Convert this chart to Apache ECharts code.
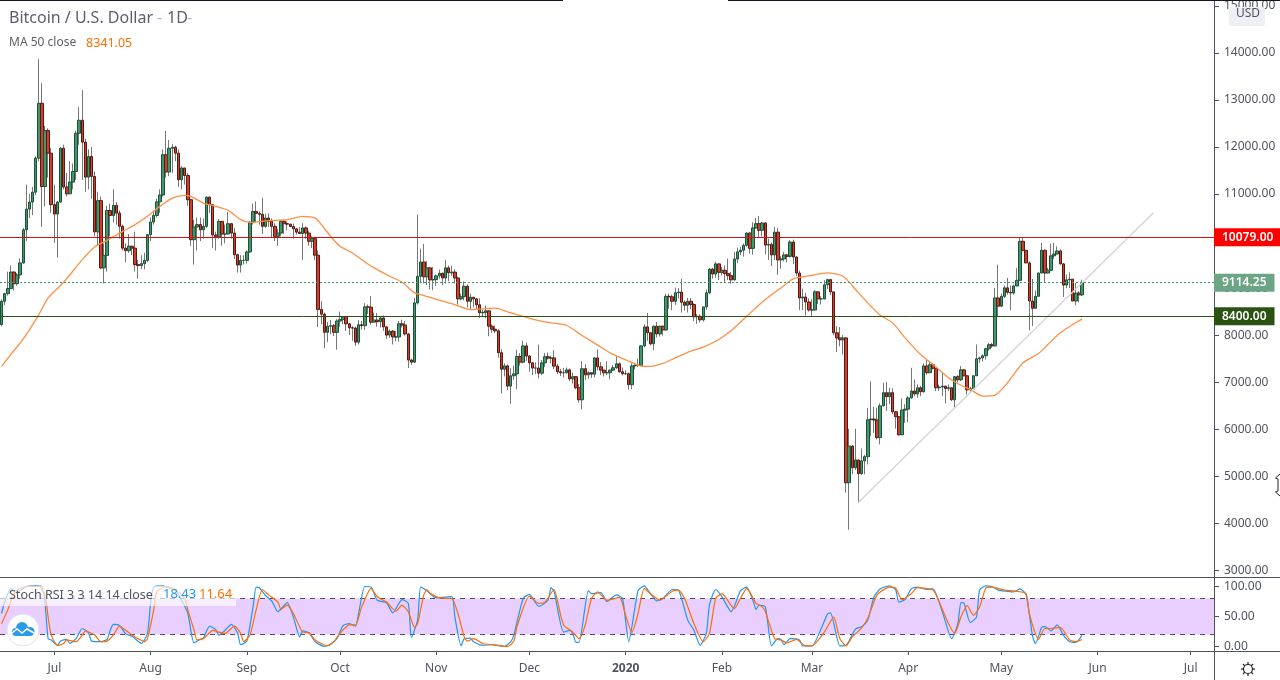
<!DOCTYPE html>
<html><head><meta charset="utf-8"><style>html,body{margin:0;padding:0;background:#fff}#c{width:1280px;height:680px}</style>
<script src="https://cdn.jsdelivr.net/npm/echarts@6/dist/echarts.min.js"></script></head><body><div id="c"></div>
<script>
const firstDay = '2019-06-14';
const dayCount = 391;
const monthDates = ['2019-07-01','2019-08-01','2019-09-01','2019-10-01','2019-11-01','2019-12-01','2020-01-01','2020-02-01','2020-03-01','2020-04-01','2020-05-01','2020-06-01','2020-07-01'];
const monthLabels = ['Jul','Aug','Sep','Oct','Nov','Dec','2020','Feb','Mar','Apr','May','Jun','Jul'];
const priceTicks = [3000,4000,5000,6000,7000,8000,9000,10000,11000,12000,13000,14000,15000];
const stochTicks = [0,50,100];
const opens = [8225,8720,8880,8990,9340,9095,9280,9535,10240,10680,10830,11040,11765,12930,11160,12350,11870,
10775,10575,10830,11975,11150,11005,11255,11480,12295,12570,12105,11360,11800,11375,10195,10860,9430,9695,10650,10545,10760,10595,10315,9850,9795,9890,9850,9500,9480,9520,9590,
10135,10405,10545,10835,10980,11835,11470,11975,11995,11870,11305,11555,11395,10880,10030,10300,10350,10240,10315,10935,10775,10130,10090,10420,10150,10150,10370,10170,9710,9490,9590,
9590,9770,10400,10630,10590,10570,10315,10490,10420,10315,10100,10170,10420,10370,10360,10310,10260,10190,10160,10280,10170,9995,10060,9700,8545,8445,8060,8190,8200,8060,
8300,8330,8390,8240,8155,8150,7850,8220,8200,8600,8595,8275,8320,8285,8365,8175,8000,8085,7960,7960,8240,8215,8025,7470,7425,8685,9250,9555,9240,9430,9175,
9180,9260,9315,9215,9430,9325,9340,9215,8770,8815,9040,8720,8805,8770,8645,8475,8485,8515,8190,8125,8090,7625,7275,7345,6915,7135,7175,7545,7425,7770,
7555,7410,7300,7300,7190,7410,7540,7510,7515,7340,7220,7200,7200,7260,7070,7115,6880,6625,7285,7155,7200,7170,7515,7325,7255,7200,7200,7255,7305,7390,7220,
7180,7180,6945,7345,7355,7360,7770,8175,8050,7815,8190,8025,8190,8110,8825,8815,8720,8900,8915,8700,8635,8720,8650,8390,8400,8325,8600,8900,9405,9300,9515,
9335,9380,9310,9265,9175,9620,9770,9805,9910,10170,9845,10280,10370,10230,10385,9915,9930,9705,10190,9600,9620,9705,9675,9980,9660,9320,8790,8810,8705,
8535,8535,8920,8770,8770,9070,9180,8920,8050,7940,7900,7940,4860,5640,5180,5345,5055,5325,5415,6200,6215,6195,5820,6495,6775,6690,6775,6370,6265,5880,6405,
6425,6665,6810,6750,6880,6795,7345,7200,7370,7295,6880,6895,6915,6865,6880,6625,7115,7050,7260,7135,6835,6860,7135,7495,7515,7560,7710,7795,7770,8790,
8615,8825,9005,8910,8895,9045,9165,9995,9805,9535,8725,8570,8825,9320,9805,9320,9380,9685,9725,9790,9515,9065,9175,9190,8725,8895,8855];
const closes = [8720,8880,8990,9340,9095,9280,9535,10240,10680,10830,11040,11765,12930,11160,12350,11870,10775,
10575,10830,11975,11150,11005,11255,11480,12295,12570,12105,11360,11800,11375,10195,10860,9430,9695,10650,10545,10760,10595,10315,9850,9795,9890,9850,9500,9480,9520,9590,10135,
10405,10545,10835,10980,11835,11470,11975,11995,11870,11305,11555,11395,10880,10030,10300,10350,10240,10315,10935,10775,10130,10090,10420,10150,10150,10370,10170,9710,9490,9590,9590,
9770,10400,10630,10590,10570,10315,10490,10420,10315,10100,10170,10420,10370,10360,10310,10260,10190,10160,10280,10170,9995,10060,9700,8545,8445,8060,8190,8200,8060,8300,
8330,8390,8240,8155,8150,7850,8220,8200,8600,8595,8275,8320,8285,8365,8175,8000,8085,7960,7960,8240,8215,8025,7470,7425,8685,9250,9555,9240,9430,9175,9180,
9260,9315,9215,9430,9325,9340,9215,8770,8815,9040,8720,8805,8770,8645,8475,8485,8515,8190,8125,8090,7625,7275,7345,6915,7135,7175,7545,7425,7770,7555,
7410,7300,7300,7190,7410,7540,7510,7515,7340,7220,7200,7200,7260,7070,7115,6880,6625,7285,7155,7200,7170,7515,7325,7255,7200,7200,7255,7305,7390,7220,7180,
7180,6945,7345,7355,7360,7770,8175,8050,7815,8190,8025,8190,8110,8825,8815,8720,8900,8915,8700,8635,8720,8650,8390,8400,8325,8600,8900,9405,9300,9515,9335,
9380,9310,9265,9175,9620,9770,9805,9910,10170,9845,10280,10370,10230,10385,9915,9930,9705,10190,9600,9620,9705,9675,9980,9660,9320,8790,8810,8705,8535,
8535,8920,8770,8770,9070,9180,8920,8050,7940,7900,7940,4860,5640,5180,5345,5055,5325,5415,6200,6215,6195,5820,6495,6775,6690,6775,6370,6265,5880,6405,6425,
6665,6810,6750,6880,6795,7345,7200,7370,7295,6880,6895,6915,6865,6880,6625,7115,7050,7260,7135,6835,6860,7135,7495,7515,7560,7710,7795,7770,8790,8615,
8825,9005,8910,8895,9045,9165,9995,9805,9535,8725,8570,8825,9320,9805,9320,9380,9685,9725,9790,9515,9065,9175,9190,8725,8895,8855,9114.25];
const highs = [8760,8900,9350,9480,9360,9320,9630,10280,11200,11000,11150,11800,13870,13360,12450,12400,11980,
11200,10850,12000,12050,11450,11700,11650,12350,12850,13210,12180,11950,12000,11480,11050,10950,9950,10750,10800,11100,10830,10650,10350,9950,10150,9900,10200,9600,9700,9750,10150,
10500,10650,10900,11100,11950,12340,12150,12060,12030,11950,11600,11550,11450,10900,10450,10500,10500,10480,10950,10950,10780,10200,10470,10420,10350,10620,10380,10280,9730,9700,9700,
9800,10430,10800,10840,10630,10920,10580,10590,10480,10380,10260,10450,10450,10420,10370,10370,10280,10300,10380,10310,10220,10100,10080,9800,8720,8480,8280,8320,8240,8340,
8500,8400,8410,8260,8190,8180,8320,8300,8680,8650,8830,8480,8470,8410,8420,8180,8120,8110,8090,8300,8330,8300,8040,7500,8790,10560,9840,9940,9570,9450,9450,
9290,9390,9330,9600,9480,9480,9400,9240,8880,9145,9080,8880,8800,8790,8780,8540,8630,8530,8230,8200,8130,7700,7400,7370,7300,7350,7690,7620,7880,7840,
7570,7420,7420,7800,7470,7620,7630,7560,7680,7390,7280,7300,7310,7290,7200,7130,6960,7445,7380,7230,7200,7530,7695,7430,7260,7440,7270,7360,7550,7420,7310,
7250,7200,7400,7400,7500,7790,8230,8470,8050,8200,8280,8200,8200,8880,8880,8860,9010,9000,9195,8740,8790,8790,8680,8450,8440,8600,8970,9420,9430,9560,9520,
9450,9480,9625,9340,9770,9860,9880,9950,10190,10190,10400,10490,10530,10410,10400,10050,9970,10300,10280,9680,9770,9720,10020,10030,9680,9370,8990,8900,8780,
8760,8960,8930,8830,9170,9200,9200,8920,8190,8170,8000,7960,6010,5660,6010,5350,5590,5450,6455,7014,6476,6455,6550,6986,7000,6880,6870,6380,6270,6653,6530,
6700,7304,7057,6950,6920,7397,7481,7446,7400,7300,6950,7212,6920,6950,6880,7130,7150,7340,7280,7140,6900,7140,7800,7540,7590,7730,7835,7835,9000,9499,
8880,9053,9216,9053,9075,9428,10065,10065,9804,9570,9195,8950,9330,9960,9820,9430,9945,9960,9889,9820,9535,9287,9336,9195,9110,8935,9180];
const lows = [8190,8640,8840,8980,8950,9050,9200,9520,10000,10490,10550,10980,11700,10300,10740,11350,10600,
9960,9650,10820,11100,10950,11000,11100,11300,12050,11300,11050,11100,10900,10100,9900,9400,9100,9350,10100,10400,10350,10050,9800,9550,9750,9700,9350,9200,9400,9400,9550,
10000,10350,10500,10600,10950,11350,11380,11450,11700,11150,11100,11200,10750,9900,9500,9800,10000,10050,10280,10600,9850,9800,10050,9900,9950,10150,10050,9620,9330,9330,9500,
9520,9750,10350,10400,10350,10150,10280,10300,10080,10000,9900,10100,10150,10230,10290,10050,10140,10150,9600,10050,9900,9850,9600,8170,8230,7720,7850,8020,7980,7690,
8180,8230,8090,8000,7880,7770,7800,8120,8110,8450,8220,8280,8180,8160,8090,7920,7940,7800,7870,7860,8160,7990,7300,7370,7410,8650,9100,9100,9060,8970,8955,
9050,9200,9060,9100,9150,9260,9100,8650,8740,8740,8590,8550,8590,8550,8365,8400,8360,7975,8050,8040,7520,6760,7120,6830,6540,7050,6845,7350,7400,7450,
7220,7150,7170,7080,7150,7320,7480,7400,7280,7170,7130,7100,7180,7020,6970,6850,6560,6420,7050,7070,7090,7100,7250,7150,7120,7150,7060,7240,7280,7200,7140,
7150,6845,6850,7270,7320,7340,7740,7880,7780,7680,7950,7970,7990,8090,8560,8530,8640,8780,8480,8520,8480,8550,8300,8240,8270,8290,8540,8870,9200,9220,9170,
9270,9130,9170,9090,9160,9530,9700,9670,9880,9730,9710,10260,10090,10100,9720,9600,9470,9600,9280,9410,9570,9550,9650,9510,9260,8530,8530,8420,8500,
8410,8520,8660,8650,8760,8980,8850,8000,7640,7760,7590,4650,3860,5040,5130,4437,5020,5040,5250,5850,5924,5782,5676,6490,6385,6530,6320,6010,5860,5875,6136,
6150,6650,6700,6670,6700,6780,7160,7200,7270,6810,6810,6703,6547,6810,6596,6455,6990,7020,7125,6738,6790,6840,7130,7410,7440,7480,7670,7730,7765,8400,
8600,8790,8860,8530,8860,9040,9160,9780,9535,8104,8190,8575,8830,9320,9124,9320,9360,9620,9712,9500,8812,9000,9000,8720,8635,8700,8830];
const maDays = [0,3,7,12,15,20,26,30,34,39,43,47,51,55,59,61,65,69,73,77,80,86,92,97,101,103,106,109,113,117,120,125,129,133,135,142,146,151,155,159,163,167,173,177,182,187,192,196,202,206,209,213,217,222,226,231,235,240,246,251,255,260,266,271,276,280,283,287,291,296,300,305,308,312,316,320,324,329,334,337,341,345,348];
const maValues = [7333,7590,7920,8437,8791,9124,9606,9875,10016,10207,10349,10526,10738,10915,10972,10951,10809,10738,10653,10455,10399,10434,10455,10526,10490,10349,10101,9889,9747,9556,9429,9252,9124,8898,8862,8721,8650,8544,8558,8572,8494,8416,8310,8261,8204,7992,7786,7623,7446,7340,7333,7397,7517,7659,7744,7906,8098,8402,8756,9004,9195,9259,9322,9252,8898,8614,8423,8260,7942,7588,7375,7092,6965,6844,6703,6724,6986,7411,7609,7800,8048,8225,8341];
const kDays = [0,1,3,5,8,11,13,14,15,16,18,19,21,22,24,26,28,29,32,34,35,36,38,40,42,43,45,47,48,49,52,54,56,58,60,62,64,65,67,69,70,72,74,76,77,79,81,82,83,85,87,89,92,94,96,97,99,101,104,106,108,110,112,114,115,117,119,121,124,126,129,131,132,134,135,137,138,140,145,146,148,149,151,152,155,158,162,164,165,168,170,173,176,177,178,181,183,184,185,186,189,190,193,195,198,200,202,205,207,209,211,213,216,218,221,223,225,227,228,230,232,235,238,240,242,243,244,246,248,250,251,252,254,257,258,261,264,266,267,270,272,275,277,279,281,283,286,288,289,291,293,295,298,300,303,306,308,309,310,312,314,315,317,319,321,324,326,328,330,332,333,335,336,338,340,342,344,346,348];
const kValues = [55,74,96,91,100,101,100,72,13,11,2,9,12,5,13,30,23,9,8,12,27,37,35,21,17,13,5,22,72,99,101,97,94,77,55,6,12,14,34,28,19,27,37,23,3,9,66,99,98,85,76,58,73,49,16,26,23,8,0,4,13,35,38,34,55,100,99,77,73,56,78,72,15,44,99,93,88,81,83,49,1,13,14,8,2,3,0,8,19,80,87,67,77,98,91,24,27,22,7,7,93,88,90,75,86,80,8,93,101,88,76,80,95,94,44,27,2,22,69,95,83,58,93,99,77,62,69,66,1,13,12,3,13,11,1,1,30,54,56,1,2,29,33,44,83,96,101,94,74,78,96,99,95,96,58,13,38,73,72,40,49,94,101,100,94,92,91,96,86,19,5,32,33,26,36,19,8,7,18.43];
const dDays = [0,2,4,6,9,12,14,15,16,18,20,21,24,26,27,30,32,34,36,38,40,42,44,46,47,49,50,53,56,59,60,62,63,65,68,70,72,75,77,78,80,82,84,86,89,90,92,94,97,99,101,105,107,109,112,114,116,119,121,124,127,129,131,133,134,136,137,138,141,145,147,149,150,152,155,158,163,165,166,170,173,175,178,179,181,184,186,188,190,192,195,199,201,203,205,207,209,212,216,218,220,223,226,228,230,232,236,238,240,243,245,246,249,251,253,256,259,261,265,268,270,272,274,277,279,282,286,288,290,293,295,300,302,305,307,309,311,313,315,317,319,323,327,330,331,334,336,338,341,344,346,348];
const dValues = [38,61,88,97,100,100,86,49,19,2,5,11,8,19,26,19,8,9,19,34,27,19,13,8,13,61,91,100,95,80,61,27,11,13,27,24,22,34,22,8,19,61,95,86,74,62,69,55,24,23,11,1,8,22,36,36,66,97,83,74,59,69,58,32,38,86,95,89,81,80,55,16,9,13,5,3,0,9,33,84,72,74,95,77,36,24,13,36,80,91,77,82,52,23,55,97,88,77,92,94,80,38,8,22,80,88,63,80,97,72,66,58,13,11,6,12,1,1,24,49,13,1,16,31,47,86,99,97,78,88,98,94,74,38,22,49,68,52,66,97,99,94,92,88,55,12,30,30,32,11,8,11.64];
const trendDays = [276,371];
const trendValues = [4444,10604];
const levelHigh = 10079, levelLast = 9114.25, levelLow = 8400;
const stochUpper = 80, stochLower = 20;

const start = new Date(firstDay + 'T00:00:00Z');
const categories = Array.from({length: dayCount}, (_, i) => new Date(start.getTime() + i * 864e5).toISOString().slice(0, 10));
const ohlc = closes.map((c, i) => [opens[i], c, lows[i], highs[i]]);
const bodies = closes.map((c, i) => [opens[i], c, Math.min(opens[i], c), Math.max(opens[i], c)]);
const pairs = (xs, ys) => xs.map((x, i) => [x, ys[i]]);
const FONT = '"Noto Sans", sans-serif';
const INK = '#50535e';
const isMonth = (i, v) => monthDates.includes(v);
const levelLabel = (bg, pad) => ({show: true, position: 'end', distance: 0, color: '#fff', fontFamily: FONT, fontSize: 12, fontWeight: 600, backgroundColor: bg, padding: pad, formatter: p => p.value.toFixed(2)});

const chart = echarts.init(document.getElementById('c'), null, {renderer: 'canvas'});
chart.setOption({
  animation: false,
  backgroundColor: '#fff',
  textStyle: {fontFamily: FONT},
  grid: [
    {left: -1, right: 66, top: 0, height: 577},
    {left: -1, right: 66, top: 577, height: 74}
  ],
  xAxis: [
    {type: 'category', gridIndex: 0, data: categories, boundaryGap: true, axisLabel: {show: false}, axisTick: {show: false}, axisLine: {show: true, onZero: false, lineStyle: {color: INK}}, splitLine: {show: false}},
    {type: 'category', gridIndex: 1, data: categories, boundaryGap: true,
      axisLine: {show: true, onZero: false, lineStyle: {color: INK}},
      axisTick: {show: true, length: 4, alignWithLabel: true, interval: isMonth, lineStyle: {color: INK}},
      axisLabel: {show: true, interval: isMonth, margin: 12, color: INK, fontSize: 12, fontFamily: FONT, hideOverlap: false,
        formatter: v => { const m = monthLabels[monthDates.indexOf(v)]; return m === '2020' ? '{b|2020}' : m; },
        rich: {b: {fontWeight: 'bold', fontSize: 12, color: INK, fontFamily: FONT}}},
      splitLine: {show: false}}
  ],
  yAxis: [
    {type: 'value', gridIndex: 0, position: 'right', min: 2855, max: 15110, scale: true,
      axisLine: {show: true, onZero: false, lineStyle: {color: INK}},
      axisTick: {show: true, length: 5, customValues: priceTicks, lineStyle: {color: INK}},
      axisLabel: {show: true, margin: 10, customValues: priceTicks, color: INK, fontSize: 12, fontFamily: FONT, showMinLabel: true, showMaxLabel: true, formatter: v => v.toFixed(2)},
      splitLine: {show: false}},
    {type: 'value', gridIndex: 1, position: 'right', min: -7.5, max: 115.8, scale: true,
      axisLine: {show: true, onZero: false, lineStyle: {color: INK}},
      axisTick: {show: true, length: 5, customValues: stochTicks, lineStyle: {color: INK}},
      axisLabel: {show: true, margin: 10, customValues: stochTicks, color: INK, fontSize: 12, fontFamily: FONT, formatter: v => v.toFixed(2)},
      splitLine: {show: false}}
  ],
  series: [
    {type: 'candlestick', name: 'wicks', xAxisIndex: 0, yAxisIndex: 0, barWidth: 1, data: ohlc, silent: true, z: 2,
      itemStyle: {color: '#777', color0: '#777', borderColor: '#777', borderColor0: '#777', borderWidth: 1}},
    {type: 'candlestick', name: 'Bitcoin / U.S. Dollar', xAxisIndex: 0, yAxisIndex: 0, barWidth: 3, data: bodies, z: 3,
      itemStyle: {color: '#43956c', color0: '#d23c2a', borderColor: '#1d5238', borderColor0: '#571a12', borderWidth: 1},
      markLine: {silent: true, symbol: 'none', animation: false, z: 6, data: [
        {yAxis: levelHigh, lineStyle: {color: '#d81010', width: 1, type: 'solid'}, label: levelLabel('#ff0000', [3, 8, 3, 8])},
        {yAxis: levelLast, lineStyle: {color: '#3f9a6b', width: 1, type: [2, 2]}, label: levelLabel('#6ba584', [3, 8, 3, 8])},
        {yAxis: levelLow, lineStyle: {color: '#2a5212', width: 1, type: 'solid'}, label: levelLabel('#2a5212', [3, 8, 3, 8])}
      ]}},
    {type: 'line', name: 'MA 50 close', xAxisIndex: 0, yAxisIndex: 0, data: pairs(maDays, maValues), showSymbol: false, symbol: 'none', z: 4, smooth: 0.25, lineStyle: {color: '#ff8f44', width: 1.3}},
    {type: 'line', name: 'Trend', xAxisIndex: 0, yAxisIndex: 0, data: pairs(trendDays, trendValues), showSymbol: false, symbol: 'none', z: 5, lineStyle: {color: '#d4d4d4', width: 1.3}},
    {type: 'line', name: 'Stoch K', xAxisIndex: 1, yAxisIndex: 1, data: pairs(kDays, kValues), showSymbol: false, symbol: 'none', z: 4, smooth: 0.2, lineStyle: {color: '#2196f3', width: 1.2},
      markArea: {silent: true, z: 1, itemStyle: {color: '#e9cfff', opacity: 1}, data: [[{yAxis: stochUpper}, {yAxis: stochLower}]]},
      markLine: {silent: true, symbol: 'none', animation: false, z: 2, label: {show: false}, lineStyle: {color: '#574a63', width: 1, type: [5, 5]}, data: [{yAxis: stochUpper}, {yAxis: stochLower}]}},
    {type: 'line', name: 'Stoch D', xAxisIndex: 1, yAxisIndex: 1, data: pairs(dDays, dValues), showSymbol: false, symbol: 'none', z: 5, smooth: 0.2, lineStyle: {color: '#ff6d00', width: 1.2}}
  ],
  graphic: [
    {type: 'rect', z: 50, shape: {x: 0, y: 0, width: 563, height: 1}, style: {fill: '#131722'}, silent: true},
    {type: 'rect', z: 50, shape: {x: 728, y: 0, width: 552, height: 1}, style: {fill: '#131722'}, silent: true},
    {type: 'line', z: 40, shape: {x1: 1214, y1: 577.5, x2: 1280, y2: 577.5}, style: {stroke: INK, lineWidth: 1}, silent: true},
    {type: 'line', z: 40, shape: {x1: 1214, y1: 651.5, x2: 1280, y2: 651.5}, style: {stroke: INK, lineWidth: 1}, silent: true},
    {type: 'line', z: 40, shape: {x1: 1214.5, y1: 651, x2: 1214.5, y2: 680}, style: {stroke: INK, lineWidth: 1}, silent: true},
    {type: 'text', z: 50, x: 9, y: 10, style: {text: 'Bitcoin / U.S. Dollar', fill: '#5d606b', font: '16px ' + FONT}, silent: true},
    {type: 'text', z: 50, x: 157, y: 10, style: {text: '-', fill: '#b4b6bd', font: '16px ' + FONT}, silent: true},
    {type: 'text', z: 50, x: 167, y: 10, style: {text: '1D', fill: '#5d606b', font: '16px ' + FONT}, silent: true},
    {type: 'text', z: 50, x: 187, y: 10, style: {text: '-', fill: '#b4b6bd', font: '16px ' + FONT}, silent: true},
    {type: 'text', z: 50, x: 9, y: 37, style: {text: 'MA 50 close', fill: '#5d606b', font: '12px ' + FONT}, silent: true},
    {type: 'text', z: 50, x: 86, y: 37, style: {text: '8341.05', fill: '#ff6d00', font: '12.5px ' + FONT}, silent: true},
    {type: 'rect', z: 48, shape: {x: 0, y: 586, width: 236, height: 20}, style: {fill: 'rgba(255,255,255,0.65)'}, silent: true},
    {type: 'text', z: 50, x: 9, y: 589, style: {text: 'Stoch RSI 3 3 14 14 close', fill: '#50535e', font: '12.5px ' + FONT}, silent: true},
    {type: 'text', z: 50, x: 163, y: 588, style: {text: '18.43', fill: '#2196f3', font: '13px ' + FONT}, silent: true},
    {type: 'text', z: 50, x: 199, y: 588, style: {text: '11.64', fill: '#ff6d00', font: '13px ' + FONT}, silent: true},
    {type: 'rect', z: 50, shape: {x: 1229, y: 7, width: 36, height: 19, r: 2}, style: {fill: '#eef0f6'}, silent: true},
    {type: 'text', z: 51, x: 1236, y: 8, style: {text: 'USD', fill: '#50535e', font: '12px ' + FONT}, silent: true},
    {type: 'polyline', z: 50, shape: {points: [[1280, 474], [1275.5, 478], [1278, 479], [1278, 491], [1275.5, 492], [1280, 496]]}, style: {stroke: '#222', fill: null, lineWidth: 1}, silent: true},
    {type: 'group', z: 50, x: 23, y: 630, silent: true, children: [
      {type: 'circle', z: 50, shape: {cx: 0, cy: 0, r: 16}, style: {fill: '#fff', stroke: '#e3e3e6', lineWidth: 1}},
      {type: 'circle', z: 51, shape: {cx: -7, cy: 2, r: 4}, style: {fill: '#2b9be8'}},
      {type: 'circle', z: 51, shape: {cx: -1, cy: -2, r: 6}, style: {fill: '#2b9be8'}},
      {type: 'circle', z: 51, shape: {cx: 7, cy: 1.5, r: 4.5}, style: {fill: '#2b9be8'}},
      {type: 'rect', z: 51, shape: {x: -7, y: 1, width: 14, height: 5}, style: {fill: '#2b9be8'}},
      {type: 'polyline', z: 52, shape: {points: [[-11, 3], [-6, -1], [-1, 3], [4, -1], [11, 3]]}, style: {stroke: '#fff', fill: null, lineWidth: 1.5}}
    ]},
    {type: 'group', z: 50, x: 1248, y: 669, silent: true, children: [
      {type: 'circle', shape: {cx: 0, cy: 0, r: 4.5}, style: {fill: '#fff', stroke: '#222', lineWidth: 1.2}},
      {type: 'line', shape: {x1: -7, y1: 0, x2: -4.5, y2: 0}, style: {stroke: '#222', lineWidth: 1.2}},
      {type: 'line', shape: {x1: 4.5, y1: 0, x2: 7, y2: 0}, style: {stroke: '#222', lineWidth: 1.2}},
      {type: 'line', shape: {x1: 0, y1: -7, x2: 0, y2: -4.5}, style: {stroke: '#222', lineWidth: 1.2}},
      {type: 'line', shape: {x1: 0, y1: 4.5, x2: 0, y2: 7}, style: {stroke: '#222', lineWidth: 1.2}},
      {type: 'line', shape: {x1: -5, y1: -5, x2: -3.2, y2: -3.2}, style: {stroke: '#222', lineWidth: 1.2}},
      {type: 'line', shape: {x1: 5, y1: -5, x2: 3.2, y2: -3.2}, style: {stroke: '#222', lineWidth: 1.2}},
      {type: 'line', shape: {x1: -5, y1: 5, x2: -3.2, y2: 3.2}, style: {stroke: '#222', lineWidth: 1.2}},
      {type: 'line', shape: {x1: 5, y1: 5, x2: 3.2, y2: 3.2}, style: {stroke: '#222', lineWidth: 1.2}}
    ]}
  ]
});
</script></body></html>
